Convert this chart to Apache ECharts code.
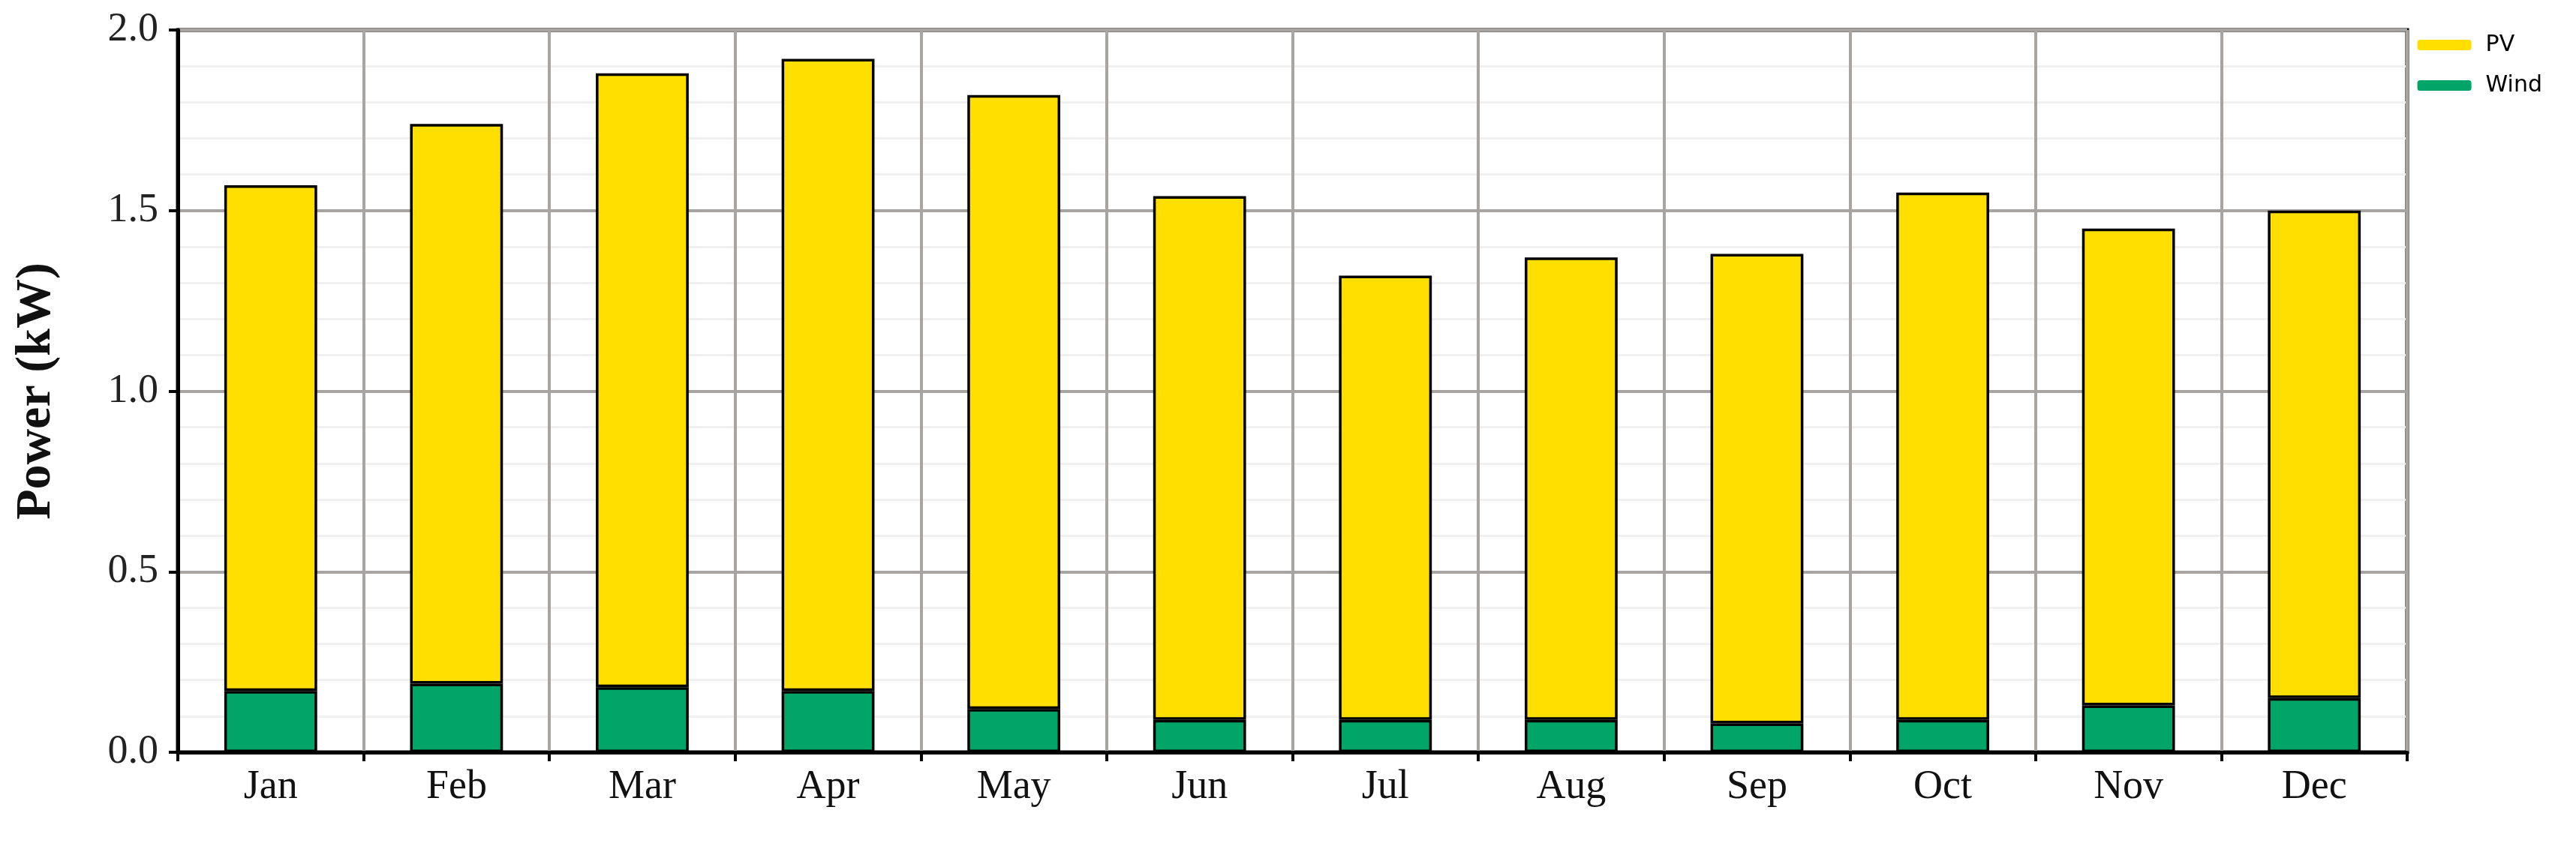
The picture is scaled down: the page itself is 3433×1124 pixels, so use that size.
<!DOCTYPE html><html><head><meta charset="utf-8"><script src="https://cdn.jsdelivr.net/npm/echarts@6/dist/echarts.min.js"></script>
<style>html,body{margin:0;background:#fff}#c{width:3433px;height:1124px}</style></head><body><div id="c"></div><script>
const months=['Jan','Feb','Mar','Apr','May','Jun','Jul','Aug','Sep','Oct','Nov','Dec'];
const wind=[0.17,0.19,0.18,0.17,0.12,0.09,0.09,0.09,0.08,0.09,0.13,0.15];
const pv=[1.40,1.55,1.70,1.75,1.70,1.45,1.23,1.28,1.30,1.46,1.32,1.35];
const chart=echarts.init(document.getElementById('c'));
const bs={borderColor:'#000',borderWidth:3.5};
chart.setOption({
 animation:false,
 grid:{left:237,right:225,top:40,bottom:121,show:true,borderColor:'#000',borderWidth:5},
 legend:{right:40,top:40,orient:'vertical',itemWidth:72,itemHeight:14,itemGap:24,icon:'roundRect',
  itemStyle:{borderWidth:0},
  textStyle:{fontFamily:'DejaVu Sans',fontSize:30,color:'#000',padding:[0,0,0,14]},data:['PV','Wind']},
 xAxis:{type:'category',data:months,
  axisLine:{lineStyle:{color:'#000',width:5}},
  axisTick:{show:true,length:12,lineStyle:{color:'#000',width:4}},
  axisLabel:{fontFamily:'Liberation Serif',fontSize:54,color:'#111',margin:20},
  splitLine:{show:true,lineStyle:{color:'#a8a4a2',width:4}}},
 yAxis:{type:'value',min:0,max:2,interval:0.5,name:'Power (kW)',nameLocation:'middle',nameGap:155,
  nameTextStyle:{fontFamily:'Liberation Serif',fontWeight:'bold',fontSize:66,color:'#111'},
  axisLine:{show:true,lineStyle:{color:'#000',width:5}},
  axisTick:{show:true,length:12,lineStyle:{color:'#000',width:4}},
  axisLabel:{fontFamily:'Liberation Serif',fontSize:54,color:'#222',margin:26,formatter:v=>v.toFixed(1)},
  splitLine:{lineStyle:{color:'#a8a4a2',width:4}},
  minorTick:{show:false,splitNumber:5},
  minorSplitLine:{show:true,lineStyle:{color:'#f0f0f0',width:3}}},
 series:[
  {name:'Wind',type:'bar',stack:'a',data:wind,barWidth:'50%',itemStyle:Object.assign({color:'#00a567'},bs)},
  {name:'PV',type:'bar',stack:'a',data:pv,barWidth:'50%',itemStyle:Object.assign({color:'#ffdf00'},bs)}
 ]
});
</script></body></html>
